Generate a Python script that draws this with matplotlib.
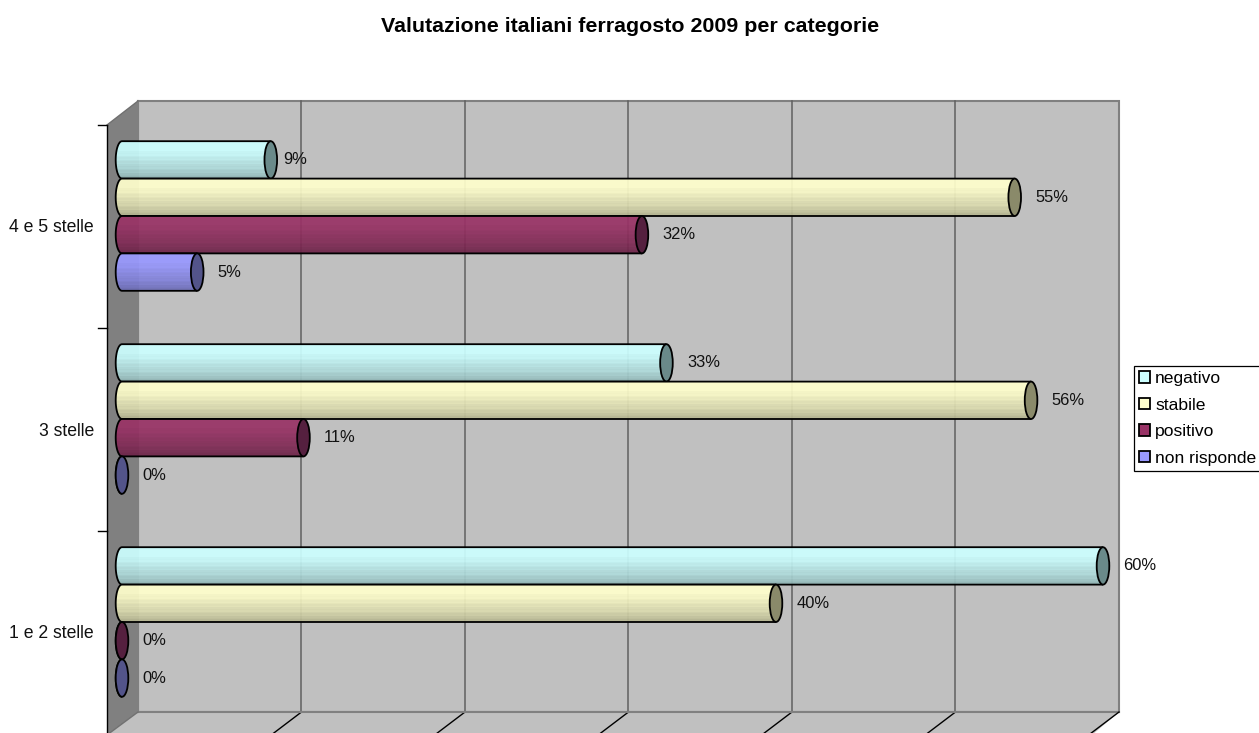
import matplotlib
matplotlib.use('Agg')
import matplotlib.pyplot as plt
import numpy as np
from matplotlib.patches import Ellipse, PathPatch, Patch, Polygon
from matplotlib.path import Path

plt.rcParams['font.family'] = ['Liberation Sans', 'DejaVu Sans']

title = 'Valutazione italiani ferragosto 2009 per categorie'
categorie = ['1 e 2 stelle', '3 stelle', '4 e 5 stelle']
serie = ['negativo', 'stabile', 'positivo', 'non risponde']
negativo = [60.0, 33.3, 9.1]
stabile = [40.0, 55.6, 54.6]
positivo = [0.0, 11.1, 31.8]
non_risponde = [0.0, 0.0, 4.6]
valori = [negativo, stabile, positivo, non_risponde]

colori = ['#CCFFFF', '#FFFFCC', '#993366', '#9999FF']
colori_fine = ['#6A8A8A', '#8A8A6A', '#55203F', '#53548A']

W, H = 1259, 733
fig = plt.figure(figsize=(W / 100, H / 100), dpi=100, facecolor='white')

# background axes in pixels, for the 3D box
bg = fig.add_axes([0, 0, 1, 1])
bg.set_xlim(0, W)
bg.set_ylim(H, 0)
bg.axis('off')
bg.add_patch(Polygon([(138, 101), (1119, 101), (1119, 712), (138, 712)], fc='#C0C0C0', ec='#808080', lw=1.5))
bg.add_patch(Polygon([(107, 125), (138, 101), (138, 712), (107, 735)], fc='#808080', ec='none'))
bg.add_patch(Polygon([(138, 712), (1119, 712), (1092, 735), (107, 735)], fc='#C0C0C0', ec='none'))
griglia = 138 + 163.5 * np.arange(1, 6)
for gx in griglia:
    bg.plot([gx, gx], [101, 712], color='#606060', lw=1.1)
    bg.plot([gx, gx - 29], [712, 734], color='black', lw=1)
bg.plot([138, 1119], [712, 712], color='#808080', lw=1.5)
bg.plot([138, 138], [101, 712], color='#808080', lw=1.5)
bg.plot([1119, 1090], [712, 734], color='black', lw=1)
bg.plot([107, 107], [125, 735], color='black', lw=1)
bg.plot([107, 138], [125, 101], color='#707070', lw=1)
bg.plot([107, 138], [735, 712], color='#707070', lw=1)
for ty in [125, 328, 531]:
    bg.plot([98, 107], [ty, ty], color='black', lw=1)

# data axes: percent on x (0 at px 122, 16.35 px per point), categories on y
x0, x1 = 100, 1119
y_bot, y_top = 723.5, 114.5
ax = fig.add_axes([x0 / W, 1 - y_bot / H, (x1 - x0) / W, (y_bot - y_top) / H])
x_lim = ((x0 - 122) / 16.35, (x1 - 122) / 16.35)
ax.axis('off')
ax.patch.set_alpha(0)

px_x = 1 / 16.35
px_y = 3 / (y_bot - y_top)
alt = 37.4 * px_y
rx = 6.3 * px_x

# vertical shading of a cylinder, top to bottom
luce = np.array([0.95, 1.0, 1.0, 1.0, 1.0, 1.0, 1.0, 0.98, 0.97, 0.98, 0.95, 0.93, 0.94, 0.91,
                 0.89, 0.90, 0.87, 0.85, 0.86, 0.83, 0.80, 0.81, 0.77, 0.75, 0.72, 0.68])
scarto_label = {(2, 0): -8}

for s, (nome, vals) in enumerate(zip(serie, valori)):
    rgb = np.array(matplotlib.colors.to_rgb(colori[s]))
    img = (luce[:, None] * rgb)[:, None, :]
    for c, v in enumerate(vals):
        yc = c + (1.5 - s) * alt
        t = np.linspace(np.pi / 2, 3 * np.pi / 2, 30)
        xs = np.r_[v, rx * np.cos(t), v]
        ys = np.r_[yc + alt / 2, yc + alt / 2 * np.sin(t), yc - alt / 2]
        corpo = PathPatch(Path(np.c_[xs, ys]), fc='none', ec='black', lw=1.3, zorder=3 + s)
        ax.add_patch(corpo)
        im = ax.imshow(img, extent=(-rx, v + rx, yc - alt / 2, yc + alt / 2), aspect='auto',
                       alpha=0.93, zorder=2.9 + s, interpolation='nearest')
        im.set_clip_path(corpo)
        ax.add_patch(Ellipse((v, yc), 2 * rx, alt, fc=colori_fine[s], ec='black', lw=1.3, zorder=3.1 + s))
        dx = 20.5 + scarto_label.get((c, s), 0)
        ax.text(v + dx * px_x, yc, f'{v:.0f}%', fontsize=11.9, color='#111111', va='center', ha='left', zorder=10)

ax.set_xlim(*x_lim)
ax.set_ylim(-0.5, 2.5)

for c, nome in enumerate(categorie):
    fig.text(94 / W, 1 - (634 - 203 * c) / H, nome, fontsize=12.7, ha='right', va='center', color='#111111')

fig.text(630.5 / W, 1 - 26 / H, title, fontsize=15.4, fontweight='bold', ha='center', va='center')

maniglie = [Patch(fc=col, ec='black', lw=1.3) for col in colori]
leg = fig.legend(maniglie, serie, loc='upper left', bbox_to_anchor=(1133.5 / W, 1 - 366 / H),
                 fontsize=12.6, frameon=True, fancybox=False, edgecolor='black', framealpha=1,
                 handlelength=0.63, handleheight=0.63, handletextpad=0.3, labelspacing=0.66,
                 borderpad=0.3, borderaxespad=0)
leg.get_frame().set_linewidth(0.9)

fig.savefig('out.png', dpi=100)
